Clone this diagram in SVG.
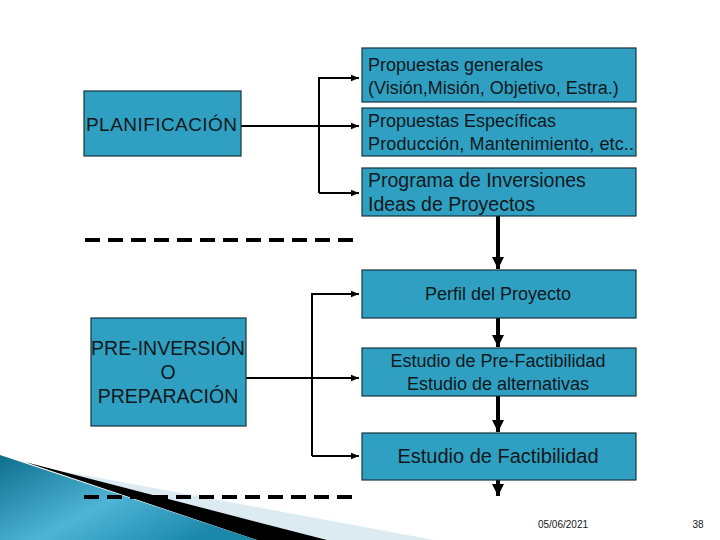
<svg xmlns="http://www.w3.org/2000/svg" width="720" height="540" viewBox="0 0 720 540">
<defs>
<style>
.box{fill:#2fa0c1;stroke:#17323f;stroke-width:1.2}
.t{font-family:"Liberation Sans",Arial,sans-serif;fill:#111820}
.c{stroke:#000;stroke-width:2;fill:none}
.v{stroke:#000;stroke-width:4;fill:none}
.d{stroke:#000;stroke-width:4;stroke-dasharray:15 8;fill:none}
</style>
<marker id="a" viewBox="0 0 10 10" refX="10" refY="5" markerWidth="4" markerHeight="4" markerUnits="strokeWidth" orient="auto"><path d="M0,1 L10,5 L0,9 Z" fill="#000"/></marker>
<marker id="b" viewBox="0 0 10 10" refX="10" refY="5" markerWidth="3" markerHeight="3" markerUnits="strokeWidth" orient="auto"><path d="M0,0 L10,5 L0,10 Z" fill="#000"/></marker>
<linearGradient id="g" x1="0" y1="0" x2="1" y2="0.6">
<stop offset="0" stop-color="#0e6f8c"/><stop offset="0.55" stop-color="#4fb4d6"/><stop offset="1" stop-color="#1a88aa"/>
</linearGradient>
</defs>
<rect width="720" height="540" fill="#fff"/>
<g id="decoration">
<polygon points="100,478 434,540 327,540 43,468" fill="#dcebf2"/>
<polygon points="25,462 327,540 257,540" fill="#000"/>
<polygon points="0,455 257,540 0,540" fill="url(#g)"/>
</g>
<g id="connectors">
<path class="c" d="M241,126 H359" marker-end="url(#a)"/>
<path class="c" d="M319,193 V78 H359" marker-end="url(#a)"/>
<path class="c" d="M319,193 H359" marker-end="url(#a)"/>
<path class="c" d="M246,378 H359" marker-end="url(#a)"/>
<path class="c" d="M312,456 V294 H359" marker-end="url(#a)"/>
<path class="c" d="M312,456 H359" marker-end="url(#a)"/>
<path class="v" d="M498,216 V269" marker-end="url(#b)"/>
<path class="v" d="M498,318 V347" marker-end="url(#b)"/>
<path class="v" d="M498,396 V432" marker-end="url(#b)"/>
<path class="v" d="M498,480 V496" marker-end="url(#b)"/>
<path class="d" d="M85,240 H358"/>
<path class="d" d="M84,497 H358"/>
</g>
<g id="planificacion">
<rect class="box" x="84" y="91" width="157" height="65"/>
<text class="t" x="86" y="131" font-size="19" textLength="151">PLANIFICACIÓN</text>
</g>
<g id="propuestas-generales">
<rect class="box" x="362" y="48" width="274" height="54"/>
<text class="t" x="368" y="71" font-size="18">Propuestas generales</text>
<text class="t" x="368" y="94" font-size="18">(Visión,Misión, Objetivo, Estra.)</text>
</g>
<g id="propuestas-especificas">
<rect class="box" x="362" y="108" width="274" height="48"/>
<text class="t" x="368" y="127" font-size="18">Propuestas Específicas</text>
<text class="t" x="368" y="150" font-size="18" textLength="266">Producción, Mantenimiento, etc..</text>
</g>
<g id="programa">
<rect class="box" x="362" y="168" width="274" height="48"/>
<text class="t" x="368" y="187" font-size="19.5">Programa de Inversiones</text>
<text class="t" x="368" y="211" font-size="19.5">Ideas de Proyectos</text>
</g>
<g id="perfil">
<rect class="box" x="362" y="270" width="274" height="48"/>
<text class="t" x="498" y="300" font-size="18" text-anchor="middle">Perfil del Proyecto</text>
</g>
<g id="prefactibilidad">
<rect class="box" x="362" y="348" width="274" height="48"/>
<text class="t" x="498" y="367" font-size="18" text-anchor="middle">Estudio de Pre-Factibilidad</text>
<text class="t" x="498" y="390" font-size="18" text-anchor="middle">Estudio de alternativas</text>
</g>
<g id="factibilidad">
<rect class="box" x="362" y="433" width="274" height="47"/>
<text class="t" x="498" y="463" font-size="20" text-anchor="middle">Estudio de Factibilidad</text>
</g>
<g id="preinversion">
<rect class="box" x="91" y="318" width="155" height="108"/>
<text class="t" x="168" y="355" font-size="19.5" text-anchor="middle">PRE-INVERSIÓN</text>
<text class="t" x="168" y="379" font-size="19.5" text-anchor="middle">O</text>
<text class="t" x="168" y="403" font-size="19.5" text-anchor="middle">PREPARACIÓN</text>
</g>
<g id="footer">
<text class="t" x="563" y="528" font-size="10" text-anchor="middle">05/06/2021</text>
<text class="t" x="698" y="528" font-size="10" text-anchor="middle">38</text>
</g>
</svg>
